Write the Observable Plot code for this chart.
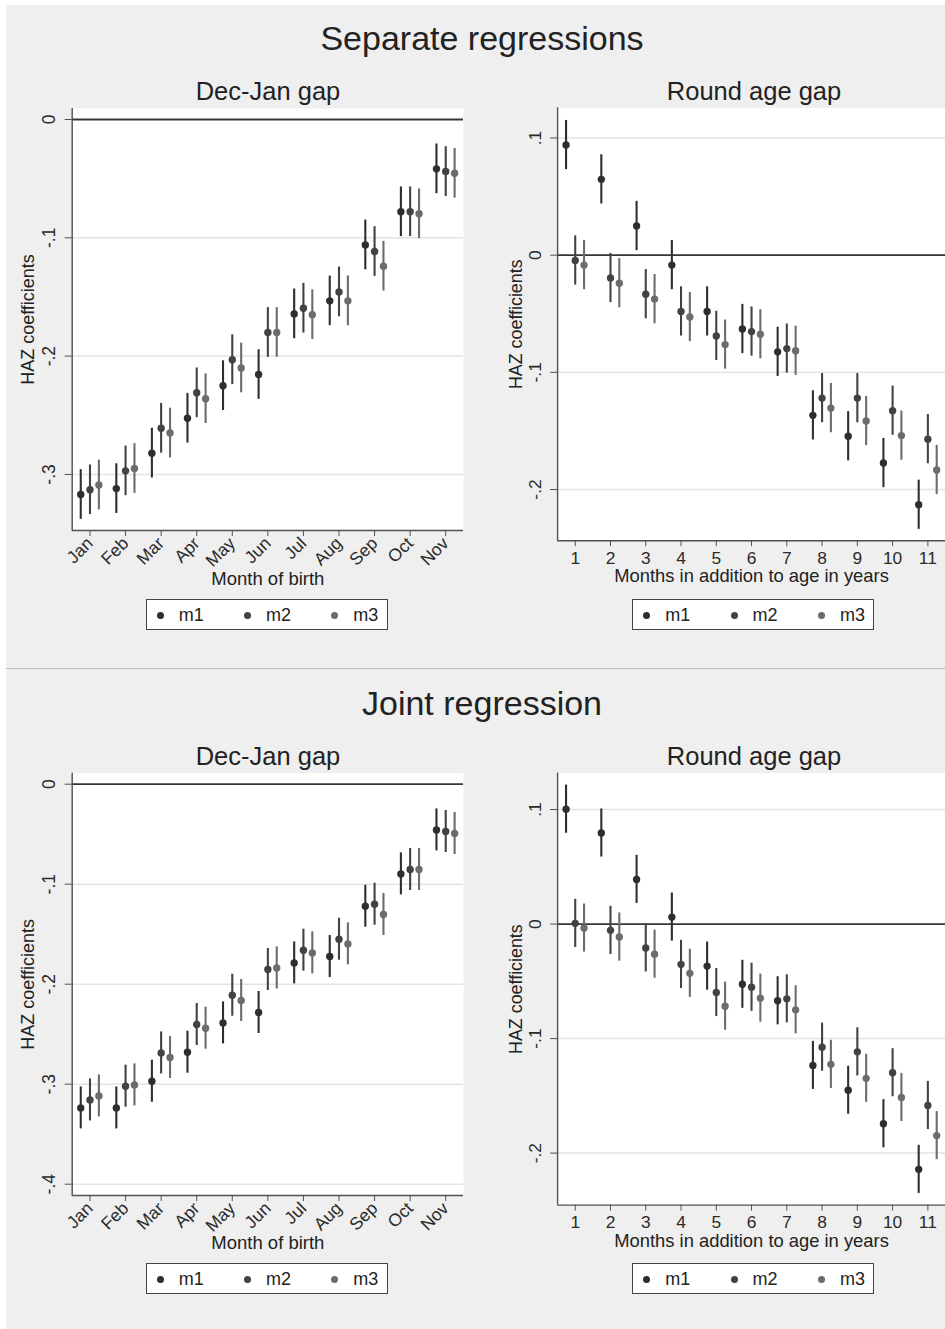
<!DOCTYPE html>
<html>
<head>
<meta charset="utf-8">
<script src="https://cdn.jsdelivr.net/npm/d3@7"></script>
<script src="https://cdn.jsdelivr.net/npm/@observablehq/plot@0.6"></script>
<style>
  html, body { margin: 0; padding: 0; background: #fff; }
  #page { position: relative; width: 945px; height: 1329px; overflow: hidden; background: #fff;
          font-family: "Liberation Sans", Arial, sans-serif; color: #222; }
  .bg { position: absolute; left: 6px; top: 5px; right: 0; bottom: 0; background: #efefef; }
  .sep { position: absolute; left: 6px; right: 0; top: 667.5px; height: 1.5px; background: #bcbcbc; }
  .title { position: absolute; transform: translate(-50%, -50%); line-height: 1; white-space: nowrap; color: #222; }
  .panel { position: absolute; }
  .legend { position: absolute; background: #fff; border: 1px solid #444; box-sizing: border-box; height: 31px; width: 242px; }
  .legend .dot { width: 7px; height: 7px; border-radius: 50%; display: inline-block; }
  .legend .lab { position: absolute; font-size: 18px; line-height: 1; white-space: nowrap; color: #222; }
</style>
</head>
<body>
<div id="page">
  <div class="bg"></div>
  <div class="sep"></div>
</div>
<script>
// Month-of-birth categories and round-age months on the x axes
const monthLabels = ["Jan", "Feb", "Mar", "Apr", "May", "Jun", "Jul", "Aug", "Sep", "Oct", "Nov"];
const ageMonths = [1, 2, 3, 4, 5, 6, 7, 8, 9, 10, 11];

// Model names (legend entries)
const seriesNames = ["m1", "m2", "m3"];

// Separate regressions: Dec-Jan gap coefficients, Jan..Nov
const sepDecJanM1 = [-0.317, -0.312, -0.282, -0.2525, -0.225, -0.2156, -0.1643, -0.1533, -0.106, -0.078, -0.0417];
const sepDecJanM2 = [-0.313, -0.297, -0.261, -0.231, -0.203, -0.180, -0.1595, -0.1457, -0.1116, -0.078, -0.044];
const sepDecJanM3 = [-0.309, -0.295, -0.265, -0.236, -0.210, -0.180, -0.165, -0.1533, -0.124, -0.0797, -0.0454];

// Separate regressions: round age gap coefficients, months 1..11
const sepRoundM1 = [0.094, 0.0647, 0.0249, -0.0085, -0.048, -0.063, -0.0825, -0.1367, -0.1545, -0.1774, -0.213];
const sepRoundM2 = [-0.0045, -0.0195, -0.0333, -0.048, -0.0689, -0.0652, -0.0797, -0.122, -0.122, -0.1327, -0.157];
const sepRoundM3 = [-0.0085, -0.024, -0.0375, -0.0528, -0.0763, -0.0675, -0.0816, -0.1305, -0.1415, -0.154, -0.1833];

// Joint regression: Dec-Jan gap coefficients, Jan..Nov
const jointDecJanM1 = [-0.3237, -0.3237, -0.297, -0.268, -0.2387, -0.2283, -0.1787, -0.1723, -0.122, -0.0897, -0.0457];
const jointDecJanM2 = [-0.3157, -0.302, -0.2687, -0.2403, -0.211, -0.1853, -0.166, -0.155, -0.12, -0.0853, -0.0473];
const jointDecJanM3 = [-0.3117, -0.3007, -0.2733, -0.244, -0.2163, -0.1837, -0.1687, -0.1597, -0.1303, -0.0853, -0.0493];

// Joint regression: round age gap coefficients, months 1..11
const jointRoundM1 = [0.1003, 0.0795, 0.039, 0.0061, -0.0367, -0.0526, -0.067, -0.1234, -0.1451, -0.1743, -0.2142];
const jointRoundM2 = [0.0006, -0.0055, -0.0208, -0.0352, -0.0598, -0.0552, -0.0653, -0.1075, -0.1116, -0.1298, -0.1584];
const jointRoundM3 = [-0.0035, -0.0113, -0.0263, -0.043, -0.0717, -0.0647, -0.0749, -0.1225, -0.1347, -0.1514, -0.1847];

// Half-width of the 95% confidence intervals
const ciHalfWidth = 0.021;

// Y tick values per panel
const yTicksSepDecJan = [0, -0.1, -0.2, -0.3];
const yTicksSepRound = [0.1, 0, -0.1, -0.2];
const yTicksJointDecJan = [0, -0.1, -0.2, -0.3, -0.4];
const yTicksJointRound = [0.1, 0, -0.1, -0.2];

// ---- styling ----
const FONT = '"Liberation Sans", Arial, sans-serif';
const seriesColors = ["#2e2e2e", "#424242", "#6c6c6c"];
const dodge = [-0.26, 0, 0.25];

// Stata-style tick labels: 0, .1, -.1 ...
const stataFmt = d => {
  const k = Math.round(Math.abs(d) * 10);
  return k === 0 ? "0" : (d < 0 ? "-" : "") + "." + k;
};

function panel(o) {
  const data = [];
  o.values.forEach((vals, j) => vals.forEach((v, i) => data.push({
    series: seriesNames[j], x: ageMonths[i] + dodge[j], est: v, lo: v - ciHalfWidth, hi: v + ciHalfWidth
  })));
  return Plot.plot({
    width: o.width, height: o.height,
    marginLeft: o.ml, marginRight: o.mr, marginTop: o.mt, marginBottom: o.mb,
    style: {background: "transparent", color: "#2a2a2a", fontFamily: FONT, fontSize: "17.5px", overflow: "visible"},
    x: {domain: [0.5, 11.5]},
    y: {domain: o.yDomain},
    color: {domain: seriesNames, range: seriesColors},
    marks: [
      Plot.frame({fill: "white", stroke: "none"}),
      Plot.gridY(o.yTicks.filter(d => d !== 0), {stroke: "#e3e3e3", strokeOpacity: 1, strokeWidth: 1.5}),
      Plot.ruleY([0], {stroke: "#363636", strokeWidth: 1.8}),
      Plot.ruleX([0.5], {stroke: "#505050", strokeWidth: 1.4}),
      Plot.ruleY([o.yDomain[0]], {stroke: "#505050", strokeWidth: 1.4}),
      Plot.ruleX(data, {x: "x", y1: "lo", y2: "hi", stroke: "series", strokeWidth: 2.1}),
      Plot.dot(data, {x: "x", y: "est", fill: "series", r: 3.7}),
      Plot.axisY({ticks: o.yTicks, tickFormat: stataFmt, tickSize: 7, tickPadding: 10, tickRotate: -90,
                  fontSize: 17.5, label: null, stroke: "#505050"}),
      Plot.axisX({ticks: ageMonths, tickFormat: o.xFormat, tickSize: 6, tickRotate: o.rotate,
                  tickPadding: o.xPad, fontSize: o.xFont, label: null, stroke: "#505050"}),
      Plot.text(["HAZ coefficients"], {text: d => d, frameAnchor: "left", dx: o.yLabelDx, rotate: -90,
                  textAnchor: "middle", lineAnchor: "bottom", fontSize: 18, fill: "#222"}),
      Plot.text([o.xLabel], {text: d => d, frameAnchor: "bottom", dy: o.xLabelDy, textAnchor: "middle",
                  lineAnchor: "middle", fontSize: 18.5, fill: "#222"})
    ]
  });
}

const page = document.getElementById("page");

function place(el, left, top) {
  const wrap = document.createElement("div");
  wrap.className = "panel";
  wrap.style.left = left + "px";
  wrap.style.top = top + "px";
  wrap.appendChild(el);
  page.appendChild(wrap);
}

function title(text, cx, cy, size) {
  const d = document.createElement("div");
  d.className = "title";
  d.textContent = text;
  d.style.left = cx + "px";
  d.style.top = cy + "px";
  d.style.fontSize = size + "px";
  page.appendChild(d);
}

function legend(left, top) {
  const box = document.createElement("div");
  box.className = "legend";
  box.style.left = left + "px";
  box.style.top = top + "px";
  seriesNames.forEach((s, i) => {
    const dot = document.createElement("span");
    dot.className = "dot";
    dot.style.position = "absolute";
    dot.style.left = (10 + i * 87.3) + "px";
    dot.style.top = "11.5px";
    dot.style.background = seriesColors[i];
    box.appendChild(dot);
    const lab = document.createElement("span");
    lab.className = "lab";
    lab.textContent = s;
    lab.style.left = (32 + i * 87.3) + "px";
    lab.style.top = "6px";
    box.appendChild(lab);
  });
  page.appendChild(box);
}

const monthFmt = d => monthLabels[d - 1];

// ---- Separate regressions ----
title("Separate regressions", 482, 38, 34);
title("Dec-Jan gap", 268, 92, 25.5);
title("Round age gap", 754, 92, 25.5);

place(panel({
  values: [sepDecJanM1, sepDecJanM2, sepDecJanM3],
  yDomain: [-0.3474, 0.0093], yTicks: yTicksSepDecJan,
  width: 470, height: 500, ml: 71.7, mr: 7, mt: 8, mb: 70,
  xFormat: monthFmt, rotate: -45, xPad: 4, xFont: 17.5,
  xLabel: "Month of birth", xLabelDy: 49, yLabelDx: -38.5
}), 0, 100);

place(panel({
  values: [sepRoundM1, sepRoundM2, sepRoundM3],
  yDomain: [-0.2437, 0.1258], yTicks: yTicksSepRound,
  width: 478.3, height: 500, ml: 87.7, mr: 0, mt: 7.3, mb: 56.7,
  xFormat: d => String(d), rotate: 0, xPad: 5, xFont: 17.5,
  xLabel: "Months in addition to age in years", xLabelDy: 36, yLabelDx: -36
}), 470, 100);

legend(145.7, 599);
legend(632.3, 599);

// ---- Joint regression ----
title("Joint regression", 482, 703, 34);
title("Dec-Jan gap", 268, 757, 25.5);
title("Round age gap", 754, 757, 25.5);

place(panel({
  values: [jointDecJanM1, jointDecJanM2, jointDecJanM3],
  yDomain: [-0.4113, 0.011], yTicks: yTicksJointDecJan,
  width: 470, height: 500, ml: 71.7, mr: 7, mt: 12.7, mb: 65,
  xFormat: monthFmt, rotate: -45, xPad: 4, xFont: 17.5,
  xLabel: "Month of birth", xLabelDy: 48, yLabelDx: -38.5
}), 0, 760);

place(panel({
  values: [jointRoundM1, jointRoundM2, jointRoundM3],
  yDomain: [-0.2454, 0.1318], yTicks: yTicksJointRound,
  width: 478.3, height: 500, ml: 87.7, mr: 0, mt: 12.7, mb: 52.3,
  xFormat: d => String(d), rotate: 0, xPad: 5, xFont: 17.5,
  xLabel: "Months in addition to age in years", xLabelDy: 36.3, yLabelDx: -36
}), 470, 760);

legend(145.7, 1263.3);
legend(632.3, 1263.3);
</script>
</body>
</html>
